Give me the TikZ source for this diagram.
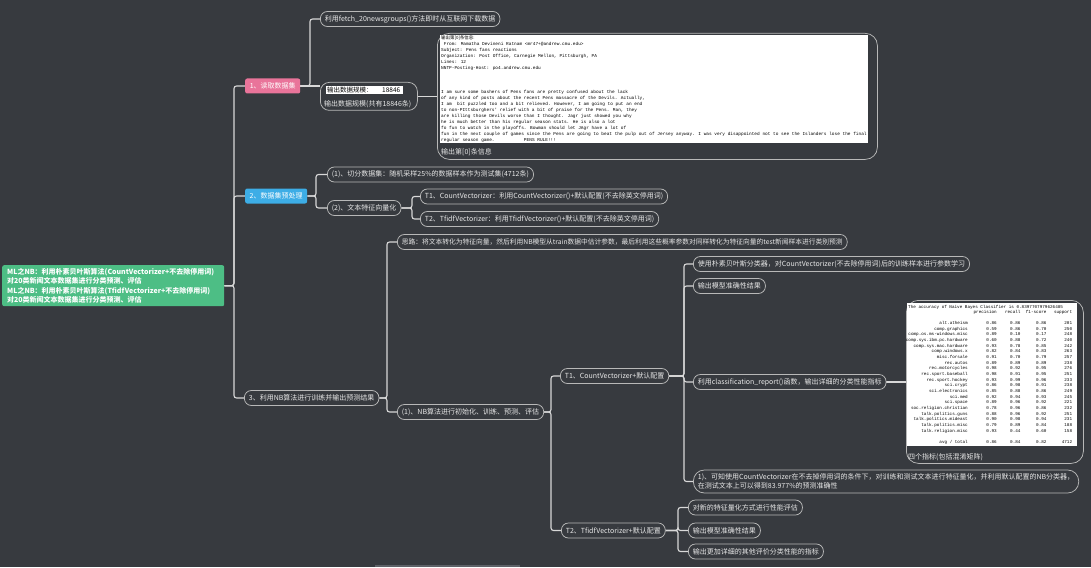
\documentclass[tikz,border=0pt]{standalone}
\usepackage{fontspec}
\newfontfamily\cjk{Noto Sans CJK SC}
\newfontfamily\mono{Liberation Mono}
\usetikzlibrary{calc}
\pgfdeclarelayer{bglayer}
\pgfsetlayers{bglayer,main}
\definecolor{bgc}{HTML}{373A3F}
\definecolor{pinkc}{HTML}{E9749A}
\definecolor{bluec}{HTML}{3DADE6}
\definecolor{greenc}{HTML}{4DBE85}
\definecolor{pillc}{HTML}{B8B8B8}
\definecolor{linec}{HTML}{D8D8D8}
\definecolor{txtc}{HTML}{E8E8E8}
\definecolor{barc}{HTML}{5E6167}
\begin{document}
\begin{tikzpicture}[x=1pt,y=-1pt,
  pillfont/.style={font=\cjk\fontsize{7}{8}\selectfont},
  pill/.style={draw=pillc, line width=0.75pt, fill=bgc, rounded corners=7pt, text=txtc,
    pillfont, inner xsep=4.5pt, inner ysep=0pt, minimum height=15pt, anchor=west},
  cbox/.style={rounded corners=2pt, text=white, pillfont, inner xsep=4.5pt, inner ysep=0pt,
    minimum height=15pt, anchor=west},
  conn/.style={draw=linec, line width=1.1pt, rounded corners=2.5pt},
  emtxt/.style={anchor=north west, inner sep=0pt, align=left, text=black,
    font=\mono\fontsize{4.45}{6}\selectfont},
  rep/.style={inner sep=0pt, text=black, font=\mono\fontsize{4.3}{5}\selectfont},
  lbl/.style={anchor=west, inner sep=0pt, text=txtc, pillfont}]

\useasboundingbox (0,0) rectangle (1091,567);

% trunk x coordinates
\coordinate (T0) at (234,0);
\coordinate (T1) at (310,0);
\coordinate (T2) at (316,0);
\coordinate (T2b) at (412,0);
\coordinate (T3) at (387,0);
\coordinate (T3b) at (551,0);
\coordinate (T3c) at (684,0);
\coordinate (T3d) at (678,0);

% root
\node[fill=greenc, rounded corners=2pt, text=white, align=left, anchor=north west,
  minimum width=222pt, minimum height=41pt, text width=212pt, inner xsep=5pt, inner ysep=0pt,
  font=\cjk\bfseries\fontsize{7}{9.3}\selectfont] (root) at (2,265)
  {ML之NB：利用朴素贝叶斯算法(CountVectorizer+不去除停用词)\\
   对20类新闻文本数据集进行分类预测、评估\\
   ML之NB：利用朴素贝叶斯算法(TfidfVectorizer+不去除停用词)\\
   对20类新闻文本数据集进行分类预测、评估};

% level 1
\node[cbox, fill=pinkc, minimum width=55pt] (n1) at (245,86) {1、读取数据集};
\node[cbox, fill=bluec, minimum width=61pt] (n2) at (245,196) {2、数据集预处理};
\node[pill] (n3) at (244,398) {3、利用NB算法进行训练并输出预测结果};

% branch 1
\node[pill] (a1) at (320,19) {利用fetch\_20newsgroups()方法即时从互联网下载数据};
\node[pill, anchor=north west, minimum width=97pt, minimum height=28pt, rounded corners=9pt] (a2) at (320,82) {};
\fill[white] (326,86.5) rectangle (403,94.5);
\node[anchor=west, inner sep=0pt, text=black, font=\cjk\fontsize{6.5}{7}\selectfont] (a2t) at (327,90.5) {输出数据规模：};
\node[anchor=west, inner sep=0pt, text=black, font=\cjk\fontsize{6.5}{7}\selectfont] (a2n) at (382,90.5) {18846};
\node[lbl] (a2l) at (324,104) {输出数据规模(共有18846条)};

\node[pill, anchor=north west, minimum width=440pt, minimum height=126pt, rounded corners=12pt] (em) at (437,33) {};
\fill[white] (440,35) rectangle (868,143);
\node[emtxt] (emt) at (441,35.3) {{\cjk 输出第[0]条信息:}\\
\hphantom{x}From: Mamatha Devineni Ratnam <mr47+@andrew.cmu.edu>\\
Subject: Pens fans reactions\\
Organization: Post Office, Carnegie Mellon, Pittsburgh, PA\\
Lines: 12\\
NNTP-Posting-Host: po4.andrew.cmu.edu\\
\mbox{}\\
\mbox{}\\
\mbox{}\\
I am sure some bashers of Pens fans are pretty confused about the lack\\
of any kind of posts about the recent Pens massacre of the Devils. Actually,\\
I am\hphantom{xx}bit puzzled too and a bit relieved. However, I am going to put an end\\
to non-PIttsburghers' relief with a bit of praise for the Pens. Man, they\\
are killing those Devils worse than I thought. Jagr just showed you why\\
he is much better than his regular season stats. He is also a lot\\
fo fun to watch in the playoffs. Bowman should let JAgr have a lot of\\
fun in the next couple of games since the Pens are going to beat the pulp out of Jersey anyway. I was very disappointed not to see the Islanders lose the final\\
regular season game.\hphantom{xxxxxxxxxxx}PENS RULE!!!};
\node[lbl] (eml) at (441,152) {输出第[0]条信息};

% branch 2
\node[pill] (b1) at (327,174.5) {(1)、切分数据集：随机采样25\%的数据样本作为测试集(4712条)};
\node[pill] (b2) at (327,208) {(2)、文本特征向量化};
\node[pill] (b21) at (420,196.5) {T1、CountVectorizer：利用CountVectorizer()+默认配置(不去除英文停用词)};
\node[pill] (b22) at (420,219) {T2、TfidfVectorizer：利用TfidfVectorizer()+默认配置(不去除英文停用词)};

% branch 3
\node[pill, font=\cjk\fontsize{6.75}{8}\selectfont] (c1) at (397,242) {思路：将文本转化为特征向量，然后利用NB模型从train数据中估计参数，最后利用这些概率参数对同样转化为特征向量的test新闻样本进行类别预测};
\node[pill] (c2) at (397,412) {(1)、NB算法进行初始化、训练、预测、评估};
\node[pill] (d1) at (560,376) {T1、CountVectorizer+默认配置};
\node[pill] (d2) at (561,530.5) {T2、TfidfVectorizer+默认配置};
\node[pill] (e1) at (693,264) {使用朴素贝叶斯分类器，对CountVectorizer(不去除停用词)后的训练样本进行参数学习};
\node[pill] (e2) at (693,286) {输出模型准确性结果};
\node[pill] (e3) at (693,382) {利用classification\_report()函数，输出详细的分类性能指标};
\node[pill, align=left, minimum height=23pt, rounded corners=11pt, font=\cjk\fontsize{7}{9}\selectfont] (e4) at (693,481.5)
  {1)、可知使用CountVectorizer在不去掉停用词的条件下，对训练和测试文本进行特征量化，并利用默认配置的NB分类器，\\在测试文本上可以得到83.977\%的预测准确性};
\node[pill] (f1) at (688,507.5) {对新的特征量化方式进行性能评估};
\node[pill] (f2) at (688,530.5) {输出模型准确性结果};
\node[pill] (f3) at (688,551.5) {输出更加详细的其他评价分类性能的指标};

% report box
\node[pill, anchor=north west, minimum width=177pt, minimum height=163pt, rounded corners=12pt] (rp) at (906,300) {};
\fill[white] (907,303) rectangle (1077,446);
\node[rep, anchor=base west] (racc) at (908,308.2) {The accuracy of Naive Bayes Classifier is 0.8397707979626485};
\node[rep, anchor=base east] (rh1) at (997,313.5) {precision};
\node[rep, anchor=base east] (rh2) at (1020.7,313.5) {recall};
\node[rep, anchor=base east] (rh3) at (1046.7,313.5) {f1-score};
\node[rep, anchor=base east] (rh4) at (1072.3,313.5) {support};
\foreach \nm/\p/\r/\f/\s [count=\i from 0] in {
  alt.atheism/0.86/0.86/0.86/201,
  comp.graphics/0.59/0.86/0.70/250,
  comp.os.ms-windows.misc/0.89/0.10/0.17/248,
  comp.sys.ibm.pc.hardware/0.60/0.88/0.72/240,
  comp.sys.mac.hardware/0.93/0.78/0.85/242,
  comp.windows.x/0.82/0.84/0.83/263,
  misc.forsale/0.91/0.70/0.79/257,
  rec.autos/0.89/0.89/0.89/238,
  rec.motorcycles/0.98/0.92/0.95/276,
  rec.sport.baseball/0.98/0.91/0.95/251,
  rec.sport.hockey/0.93/0.99/0.96/233,
  sci.crypt/0.86/0.98/0.91/238,
  sci.electronics/0.85/0.88/0.86/249,
  sci.med/0.92/0.94/0.93/245,
  sci.space/0.89/0.96/0.92/221,
  soc.religion.christian/0.78/0.96/0.86/232,
  talk.politics.guns/0.88/0.96/0.92/251,
  talk.politics.mideast/0.90/0.98/0.94/231,
  talk.politics.misc/0.79/0.89/0.84/188,
  talk.religion.misc/0.93/0.44/0.60/158}{
  \node[rep, anchor=base east] (rn\i) at (968,{324.5+\i*5.66}) {\nm};
  \node[rep, anchor=base east] (rp\i) at (997,{324.5+\i*5.66}) {\p};
  \node[rep, anchor=base east] (rr\i) at (1020.7,{324.5+\i*5.66}) {\r};
  \node[rep, anchor=base east] (rf\i) at (1046.7,{324.5+\i*5.66}) {\f};
  \node[rep, anchor=base east] (rs\i) at (1072.3,{324.5+\i*5.66}) {\s};
}
\node[rep, anchor=base east] (rna) at (968,443.4) {avg / total};
\node[rep, anchor=base east] (rpa) at (997,443.4) {0.86};
\node[rep, anchor=base east] (rra) at (1020.7,443.4) {0.84};
\node[rep, anchor=base east] (rfa) at (1046.7,443.4) {0.82};
\node[rep, anchor=base east] (rsa) at (1072.3,443.4) {4712};
\node[lbl] (rpl) at (908,457) {四个指标(包括混淆矩阵)};

% background and connectors
\begin{pgfonlayer}{bglayer}
\fill[bgc] (0,0) rectangle (1091,567);
\fill[barc] (375,564.5) rectangle (520,566.5);
\draw[conn] (root.east) -- (root.east -| T0) |- (n1.west);
\draw[conn] (root.east) -- (root.east -| T0) |- (n2.west);
\draw[conn] (root.east) -- (root.east -| T0) |- (n3.west);
\draw[conn] (n1.east) -- (n1.east -| T1) |- (a1.west);
\draw[conn] (n1.east) -- (n1.east -| a2.west);
\draw[conn] (a2.east) -- (a2.east -| em.west);
\draw[conn] (n2.east) -- (n2.east -| T2) |- (b1.west);
\draw[conn] (n2.east) -- (n2.east -| T2) |- (b2.west);
\draw[conn] (b2.east) -- (b2.east -| T2b) |- (b21.west);
\draw[conn] (b2.east) -- (b2.east -| T2b) |- (b22.west);
\draw[conn] (n3.east) -- (n3.east -| T3) |- (c1.west);
\draw[conn] (n3.east) -- (n3.east -| T3) |- (c2.west);
\draw[conn] (c2.east) -- (c2.east -| T3b) |- (d1.west);
\draw[conn] (c2.east) -- (c2.east -| T3b) |- (d2.west);
\draw[conn] (d1.east) -- (d1.east -| T3c) |- (e1.west);
\draw[conn] (d1.east) -- (d1.east -| T3c) |- (e2.west);
\draw[conn] (d1.east) -- (d1.east -| T3c) |- (e3.west);
\draw[conn] (d1.east) -- (d1.east -| T3c) |- (e4.west);
\draw[conn] (e3.east) -- (e3.east -| rp.west);
\draw[conn] (d2.east) -- (d2.east -| T3d) |- (f1.west);
\draw[conn] (d2.east) -- (d2.east -| T3d) |- (f2.west);
\draw[conn] (d2.east) -- (d2.east -| T3d) |- (f3.west);
\end{pgfonlayer}
\end{tikzpicture}
\end{document}
